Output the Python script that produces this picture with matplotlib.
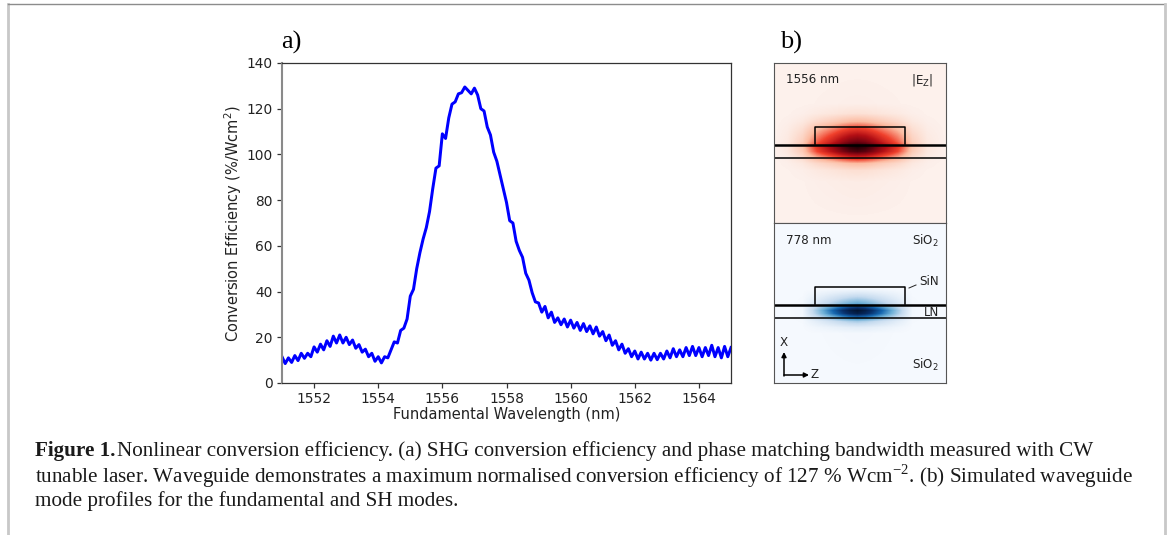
import numpy as np
import matplotlib.pyplot as plt
from matplotlib.colors import LinearSegmentedColormap
from matplotlib.lines import Line2D

# panel a
wavelength = [
    1551.0, 1551.1, 1551.2, 1551.3, 1551.4, 1551.5, 1551.6, 1551.7, 1551.8, 1551.9,
    1552.0, 1552.1, 1552.2, 1552.3, 1552.4, 1552.5, 1552.6, 1552.7, 1552.8, 1552.9,
    1553.0, 1553.1, 1553.2, 1553.3, 1553.4, 1553.5, 1553.6, 1553.7, 1553.8, 1553.9,
    1554.0, 1554.1, 1554.2, 1554.3, 1554.4, 1554.5, 1554.6, 1554.7, 1554.8, 1554.9,
    1555.0, 1555.1, 1555.2, 1555.3, 1555.4, 1555.5, 1555.6, 1555.7, 1555.8, 1555.9,
    1556.0, 1556.1, 1556.2, 1556.3, 1556.4, 1556.5, 1556.6, 1556.7, 1556.8, 1556.9,
    1557.0, 1557.1, 1557.2, 1557.3, 1557.4, 1557.5, 1557.6, 1557.7, 1557.8, 1557.9,
    1558.0, 1558.1, 1558.2, 1558.3, 1558.4, 1558.5, 1558.6, 1558.7, 1558.8, 1558.9,
    1559.0, 1559.1, 1559.2, 1559.3, 1559.4, 1559.5, 1559.6, 1559.7, 1559.8, 1559.9,
    1560.0, 1560.1, 1560.2, 1560.3, 1560.4, 1560.5, 1560.6, 1560.7, 1560.8, 1560.9,
    1561.0, 1561.1, 1561.2, 1561.3, 1561.4, 1561.5, 1561.6, 1561.7, 1561.8, 1561.9,
    1562.0, 1562.1, 1562.2, 1562.3, 1562.4, 1562.5, 1562.6, 1562.7, 1562.8, 1562.9,
    1563.0, 1563.1, 1563.2, 1563.3, 1563.4, 1563.5, 1563.6, 1563.7, 1563.8, 1563.9,
    1564.0, 1564.1, 1564.2, 1564.3, 1564.4, 1564.5, 1564.6, 1564.7, 1564.8, 1564.9,
    1565.0,
]
efficiency = [
    11.5, 8.5, 11, 9, 12, 9.8, 13, 10.8, 13, 11.5,
    15.8, 13.5, 17, 14.5, 18.5, 16, 20.5, 17.5, 21, 17.5,
    20, 16.8, 18.8, 15.2, 16.8, 13.5, 14.8, 11.5, 13, 9.5,
    11.5, 8.8, 11.5, 11, 14.5, 18, 17.5, 23, 24, 28,
    38, 41, 50, 57, 63, 68, 75, 85, 94, 95,
    109, 107, 116, 122, 123, 126.5, 127, 129.5, 128, 126.5,
    129, 126, 120, 119, 112, 108.5, 101, 97, 91, 85,
    79, 71, 70, 62, 58, 55, 48, 45, 39.5, 35.5,
    35, 31, 33.5, 28.5, 31, 26.5, 28.5, 25.5, 28, 24.5,
    27.5, 24, 26.5, 23, 26, 22.5, 25, 21.5, 24.5, 20.5,
    22.5, 18.5, 21, 16.5, 18.5, 14.5, 17, 13, 15, 11.5,
    14, 10.5, 13.5, 10.5, 13, 10, 13, 10.2, 13, 10.5,
    14, 11, 15, 11.5, 14.5, 11.5, 15.5, 12, 16, 12,
    15.5, 11.5, 15.5, 12, 16.5, 11.5, 15.5, 11, 16, 11.5,
    15.5,
]
x_ticks = [1552, 1554, 1556, 1558, 1560, 1562, 1564]
y_ticks = [0, 20, 40, 60, 80, 100, 120, 140]

# panel b, mode profiles read across and down each map (pixels from panel corner)
map_x = [0, 13, 28, 43, 58, 68, 75, 83, 91, 98, 108, 123, 138, 153, 172]
fund_x = [0.0, 0.04, 0.16, 0.45, 0.68, 0.85, 0.95, 1.0, 0.95, 0.85, 0.68, 0.45, 0.16, 0.04, 0.0]
fund_d = [0, 40, 50, 58, 65, 72, 78, 83, 88, 94, 100, 107, 118, 160]
fund_y = [0.0, 0.01, 0.06, 0.2, 0.42, 0.62, 0.78, 1.0, 0.88, 0.5, 0.2, 0.07, 0.02, 0.0]
sh_x = [0.0, 0.0, 0.02, 0.3, 0.6, 0.8, 0.92, 1.0, 0.92, 0.8, 0.6, 0.3, 0.02, 0.0, 0.0]
sh_d = [0, 65, 70, 75, 80, 83, 87, 90, 94, 98, 104, 110, 160]
sh_y = [0.0, 0.0, 0.12, 0.26, 0.42, 0.72, 1.0, 0.92, 0.58, 0.27, 0.08, 0.01, 0.0]


def box(left, top, right, bottom):
    return [left / W, 1 - bottom / H, (right - left) / W, (bottom - top) / H]


W, H = 1170, 535
plt.rcParams['font.family'] = ['DejaVu Sans']
plt.rcParams['mathtext.fontset'] = 'custom'
plt.rcParams['mathtext.rm'] = 'Liberation Serif'

fig = plt.figure(figsize=(W / 100, H / 100), dpi=100, facecolor='white')

# page frame
for xs, ys, col, lw in [([8, 8], [4, 535], '#c8c8c8', 2.0),
                        ([8, 1165], [4, 4], '#8c8c8c', 1.0),
                        ([1165, 1165], [4, 535], '#c8c8c8', 2.0)]:
    fig.add_artist(Line2D([x / W for x in xs], [1 - y / H for y in ys], color=col, lw=lw))

ax = fig.add_axes(box(282, 63, 731, 383))
ax.plot(wavelength, efficiency, color='#0000ff', lw=2.15)
ax.set_xlim(1551, 1565)
ax.set_ylim(0, 140)
ax.set_xticks(x_ticks)
ax.set_yticks(y_ticks)
ax.tick_params(labelsize=9.9, length=3.5, width=0.9, color='#333333', labelcolor='#222222', pad=3)
for side in ax.spines:
    ax.spines[side].set_color('#333333')
    ax.spines[side].set_linewidth(0.9)
ax.spines['left'].set_color('#8a8a8a')
ax.spines['left'].set_linewidth(1.5)
fig.text(507 / W, 1 - 415 / H, 'Fundamental Wavelength (nm)', fontsize=10.5, color='#222222',
         ha='center', va='center')
fig.text(233 / W, 1 - 223.5 / H, 'Conversion Efficiency (%/Wcm$^2$)', fontsize=10.5, color='#222222',
         ha='center', va='center', rotation=90, math_fontfamily='dejavusans')

fig.text(281 / W, 1 - 42 / H, 'a)', family='Liberation Serif', fontsize=19, ha='left', va='center')
fig.text(780 / W, 1 - 42 / H, 'b)', family='Liberation Serif', fontsize=19, ha='left', va='center')

reds = LinearSegmentedColormap.from_list('fund', ['#fdf1ec', '#fcbba1', '#f0402c', '#b30f15', '#6b0210', '#1c0005'])
blues = LinearSegmentedColormap.from_list('sh', ['#f5f9fe', '#c6dbef', '#6baed6', '#1566ae', '#08306b', '#021433'])
xx = np.arange(172)
yy = np.arange(160)

maps = [(box(774, 63, 946, 223), fund_x, fund_d, fund_y, reds),
        (box(774, 223, 946, 383), sh_x, sh_d, sh_y, blues)]
panels = []
for rect, prof_x, dist, prof_y, cmap in maps:
    a = fig.add_axes(rect)
    field = np.outer(np.interp(yy, dist, prof_y), np.interp(xx, map_x, prof_x))
    a.imshow(field, cmap=cmap, vmin=0, vmax=1, extent=(0, 172, 160, 0), aspect='auto', interpolation='bicubic')
    # waveguide outline
    a.plot([41, 41, 131, 131], [81, 64, 64, 81], color='black', lw=1.1)
    a.plot([0, 172], [81.5, 81.5], color='black', lw=1.8)
    a.plot([0, 172], [95, 95], color='black', lw=1.1)
    a.set_xlim(0, 172)
    a.set_ylim(160, 0)
    a.set_xticks([])
    a.set_yticks([])
    for side in a.spines:
        a.spines[side].set_color('#555555')
        a.spines[side].set_linewidth(0.8)
    panels.append(a)

top, bot = panels
label = dict(fontsize=8.6, color='#222222', va='center')
top.text(12, 16, '1556 nm', ha='left', **label)
top.text(159, 17, r'|E$_{\mathrm{Z}}$|', ha='right', math_fontfamily='dejavusans', **label)
bot.text(12, 17, '778 nm', ha='left', **label)
bot.text(165, 18, r'SiO$_2$', ha='right', math_fontfamily='dejavusans', **label)
bot.text(165, 58, 'SiN', ha='right', **label)
bot.text(165, 89, 'LN', ha='right', **label)
bot.text(165, 142, r'SiO$_2$', ha='right', math_fontfamily='dejavusans', **label)
bot.plot([135, 142], [65, 62], color='#222222', lw=0.7)
bot.annotate('', xy=(10, 129), xytext=(10, 153), arrowprops=dict(arrowstyle='-|>', color='black', lw=1.1, mutation_scale=7, shrinkA=0, shrinkB=0))
bot.annotate('', xy=(35, 152), xytext=(10, 152), arrowprops=dict(arrowstyle='-|>', color='black', lw=1.1, mutation_scale=7, shrinkA=0, shrinkB=0))
bot.text(10, 119, 'X', ha='center', **label)
bot.text(41, 152, 'Z', ha='center', **label)

cap = dict(family='Liberation Serif', fontsize=15.2, color='#1a1a1a', ha='left', va='center')
fig.text(35 / W, 1 - 451 / H, 'Figure 1.', fontweight='bold', **cap)
fig.text(117 / W, 1 - 451 / H, 'Nonlinear conversion efficiency. (a) SHG conversion efficiency and phase matching bandwidth measured with CW', **cap)
fig.text(35 / W, 1 - 476 / H, 'tunable laser. Waveguide demonstrates a maximum normalised conversion efficiency of 127 % Wcm$^{-2}$. (b) Simulated waveguide', **cap)
fig.text(35 / W, 1 - 501 / H, 'mode profiles for the fundamental and SH modes.', **cap)

fig.savefig('out.png', dpi=100)
